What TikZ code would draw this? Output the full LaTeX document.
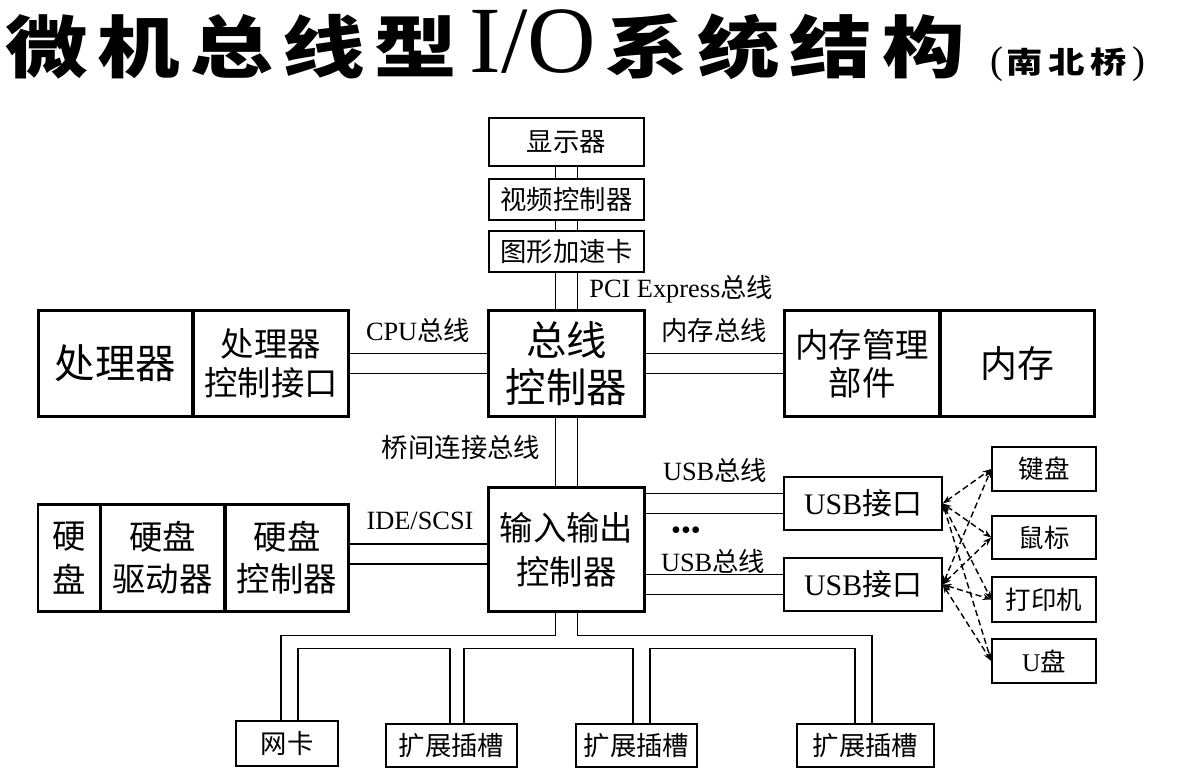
\documentclass[tikz,border=0pt]{standalone}
\usepackage{fontspec}
\setmainfont{Noto Sans CJK SC}
\newfontfamily\lat{Liberation Serif}
\usepackage{tikz}
\usetikzlibrary{positioning,arrows.meta,calc}
\newcommand\fsz[2]{\fontsize{#1}{#2}\selectfont}
\newcommand\en[1]{{\lat #1}}
\newcommand\wide[1]{\scalebox{1.22}[1]{#1}}

\begin{document}
\begin{tikzpicture}[
  x=0.02cm, y=-0.02cm,
  box/.style={draw,line width=0.8pt,inner sep=0pt,align=center,font=\fsz{15}{18}},
  thickbox/.style={box,line width=1.7pt},
  bus/.style={line width=0.7pt},
  lbl/.style={inner sep=0pt,font=\fsz{15}{18}},
  usblink/.style={dashed,dash pattern=on 3.5pt off 2pt,line width=0.8pt,
    {Stealth[length=5pt,width=3.5pt]}-{Stealth[length=5pt,width=3.5pt]}}
]
\useasboundingbox (0,0) rectangle (1178,774);

% title
\node[anchor=base west,inner sep=0pt,font=\fsz{38.5}{40}\bfseries] (title) at (5,72)
  {\wide{\addfontfeature{LetterSpace=12}微机总线型}\hspace{7pt}{\lat\mdseries\fsz{54}{54}I/O}\hspace{5pt}\wide{\addfontfeature{LetterSpace=12}系统结构}};
\node[anchor=base west,inner sep=0pt,font=\fsz{17}{18}\bfseries] (subtitle) at (990,73)
  {{\lat\mdseries\fsz{22}{22}(}\hspace{2pt}\wide{\addfontfeature{LetterSpace=15}南北桥}\hspace{3pt}{\lat\mdseries\fsz{22}{22})}};

% display path
\node[box,minimum width=3.10cm,minimum height=0.96cm] (disp) at (566.5,142) {显示器};
\node[box,minimum width=3.10cm,minimum height=0.82cm] (vid) at (566.5,199.5) {视频控制器};
\node[box,minimum width=3.10cm,minimum height=0.82cm] (gfx) at (566.5,251.5) {图形加速卡};

% north bridge row
\node[thickbox,minimum width=3.14cm,minimum height=2.14cm,font=\fsz{23}{27}] (bc) at (566.5,363.5) {总线\\控制器};
\node[thickbox,minimum width=3.10cm,minimum height=2.14cm,font=\fsz{23}{27}] (cpu) at (115.5,363.5) {处理器};
\node[thickbox,minimum width=3.12cm,minimum height=2.14cm,font=\fsz{19}{22.5}] (cpuif) at (271,363.5) {处理器\\控制接口};
\node[thickbox,minimum width=3.12cm,minimum height=2.14cm,font=\fsz{19}{21.5}] (mmu) at (862,363.5) {内存管理\\部件};
\node[thickbox,minimum width=3.10cm,minimum height=2.14cm,font=\fsz{21}{25}] (mem) at (1017.5,363.5) {内存};

% south bridge row
\node[thickbox,minimum width=3.14cm,minimum height=2.50cm,font=\fsz{19}{25}] (ioc) at (566.5,549.5) {输入输出\\控制器};
\node[thickbox,minimum width=1.24cm,minimum height=2.16cm,font=\fsz{19}{25.5}] (hd) at (69,558) {硬\\盘};
\node[thickbox,minimum width=2.50cm,minimum height=2.16cm,font=\fsz{19}{24}] (hdd) at (162.5,558) {硬盘\\驱动器};
\node[thickbox,minimum width=2.48cm,minimum height=2.16cm,font=\fsz{19}{24}] (hdc) at (287,558) {硬盘\\控制器};
\node[box,minimum width=3.16cm,minimum height=1.06cm,font=\fsz{17}{20}] (usb1) at (863,503.5) {\en{USB}接口};
\node[box,minimum width=3.16cm,minimum height=1.06cm,font=\fsz{17}{20}] (usb2) at (863,584.5) {\en{USB}接口};

% usb devices
\node[box,minimum width=2.08cm,minimum height=0.88cm,font=\fsz{14.5}{17}] (kb) at (1044,469) {键盘};
\node[box,minimum width=2.08cm,minimum height=0.86cm,font=\fsz{14.5}{17}] (mouse) at (1044,537.5) {鼠标};
\node[box,minimum width=2.08cm,minimum height=0.90cm,font=\fsz{14.5}{17}] (prn) at (1044,599.5) {打印机};
\node[box,minimum width=2.08cm,minimum height=0.88cm,font=\fsz{14.5}{17}] (udisk) at (1044,661) {\en{U}盘};

% expansion bus cards
\node[box,minimum width=2.04cm,minimum height=0.90cm] (nic) at (287,743.5) {网卡};
\node[box,minimum width=2.62cm,minimum height=0.86cm] (slotA) at (451.5,745.5) {扩展插槽};
\node[box,minimum width=2.42cm,minimum height=0.86cm] (slotB) at (636.5,745.5) {扩展插槽};
\node[box,minimum width=2.74cm,minimum height=0.86cm] (slotC) at (865.5,745.5) {扩展插槽};

% double-line buses
\foreach \dx in {-11,11} {
  \draw[bus] ($(disp.south)+(\dx,0)$) -- ($(vid.north)+(\dx,0)$);
  \draw[bus] ($(vid.south)+(\dx,0)$) -- ($(gfx.north)+(\dx,0)$);
  \draw[bus] ($(gfx.south)+(\dx,0)$) -- ($(bc.north)+(\dx,0)$);
  \draw[bus] ($(bc.south)+(\dx,0)$) -- ($(ioc.north)+(\dx,0)$);
}
\foreach \dy in {-10,10} {
  \draw[bus] ($(cpuif.east)+(0,\dy)$) -- ($(bc.west)+(0,\dy)$);
  \draw[bus] ($(bc.east)+(0,\dy)$) -- ($(mmu.west)+(0,\dy)$);
  \draw[bus] ($(ioc.east |- usb1)+(0,\dy)$) -- ($(usb1.west)+(0,\dy)$);
  \draw[bus] ($(ioc.east |- usb2)+(0,\dy)$) -- ($(usb2.west)+(0,\dy)$);
}
\foreach \dy in {-14,6}
  \draw[bus] ($(hdc.east)+(0,\dy)$) -- ($(hdc.east -| ioc.west)+(0,\dy)$);

% expansion bus tree
\draw[bus] ($(ioc.south)+(-11,0)$) -- ++(0,22) -| ($(nic.north)+(-6,0)$);
\draw[bus] ($(ioc.south)+(11,0)$) -- ++(0,22) -| ($(slotC.north)+(6.5,0)$);
\draw[bus] ($(nic.north)+(11,0)$) -- ++(0,-72) -| ($(slotA.north)+(-1.5,0)$);
\draw[bus] ($(slotA.north)+(12.5,0)$) -- ++(0,-75) -| ($(slotB.north)+(-3.5,0)$);
\draw[bus] ($(slotB.north)+(13.5,0)$) -- ++(0,-75) -| ($(slotC.north)+(-10.5,0)$);

% usb links
\foreach \u in {usb1,usb2}
  \foreach \d in {kb,mouse,prn,udisk}
    \draw[usblink] (\u.east) -- (\d.west);

% bus labels
\node[lbl,anchor=west] (pcilbl) at (589,289) {\en{PCI Express}总线};
\node[lbl] (cpulbl) at (418,330) {\en{CPU}总线};
\node[lbl] (memlbl) at (714,330) {内存总线};
\node[lbl] (bridgelbl) at (461,448) {桥间连接总线};
\node[lbl] (usblbl1) at (715,470) {\en{USB}总线};
\node[lbl,font=\lat\fsz{16}{16}] (dots) at (686,533) {•••};
\node[lbl] (usblbl2) at (713,561) {\en{USB}总线};
\node[lbl] (idelbl) at (420,521) {\en{IDE/SCSI}};
\end{tikzpicture}
\end{document}
